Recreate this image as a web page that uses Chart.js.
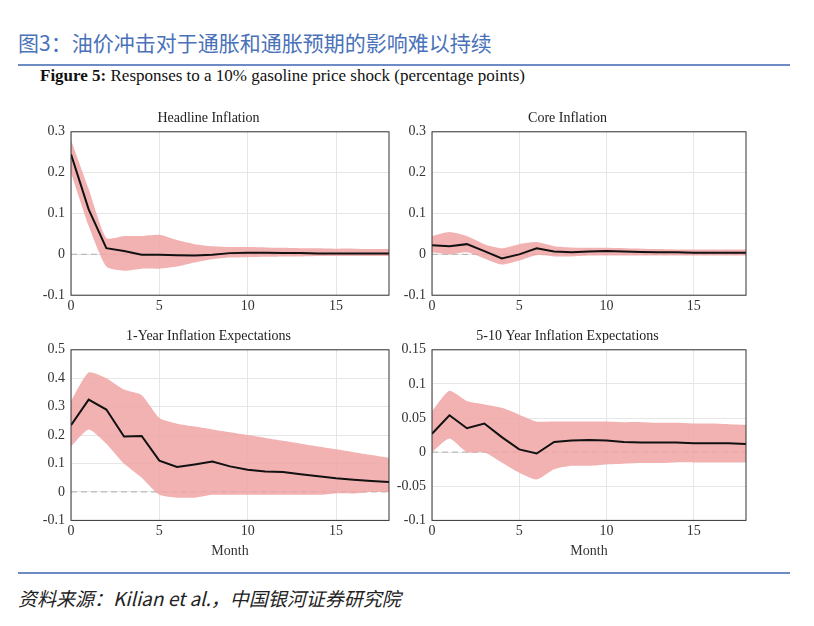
<!DOCTYPE html>
<html><head><meta charset="utf-8">
<script src="https://cdn.jsdelivr.net/npm/chart.js@4"></script>
<style>
body{margin:0;background:#fff;width:814px;height:626px;position:relative;overflow:hidden}
.h{position:absolute;left:18px;top:27px;font:21px "Noto Sans CJK SC";color:#4a72b8}
.rule{position:absolute;left:18px;width:772px;height:2px;background:#6d8cc6}
.cap{position:absolute;left:40px;top:66px;font:17px "Liberation Serif";color:#111}
.src{position:absolute;left:18px;top:584px;font:italic 19px "Noto Sans CJK SC";color:#222}
.p{position:absolute}
</style></head><body>
<div class="h">图3：油价冲击对于通胀和通胀预期的影响难以持续</div>
<div class="rule" style="top:64px"></div>
<div class="cap"><b>Figure 5:</b> Responses to a 10% gasoline price shock (percentage points)</div>
<div class="p" style="left:28px;top:110px;width:365px;height:208px"><canvas id="c1"></canvas></div>
<div class="p" style="left:389px;top:110px;width:361px;height:208px"><canvas id="c2"></canvas></div>
<div class="p" style="left:28px;top:328px;width:365px;height:232px"><canvas id="c3"></canvas></div>
<div class="p" style="left:389px;top:328px;width:361px;height:232px"><canvas id="c4"></canvas></div>
<div class="rule" style="top:572px"></div>
<div class="src">资料来源：Kilian et al.，中国银河证券研究院</div>
<script>
const months = [...Array(19).keys()];

const headMean = [0.245,0.11,0.015,0.008,-0.001,-0.001,-0.002,-0.003,-0.001,0.003,0.004,0.004,0.003,0.003,0.002,0.002,0.002,0.002,0.002];
const headHi = [0.28,0.16,0.04,0.045,0.045,0.048,0.035,0.025,0.02,0.018,0.018,0.017,0.016,0.015,0.015,0.014,0.014,0.013,0.013];
const headLo = [0.2,0.07,-0.03,-0.04,-0.035,-0.035,-0.03,-0.02,-0.012,-0.008,-0.007,-0.006,-0.005,-0.005,-0.004,-0.004,-0.004,-0.004,-0.004];

const coreMean = [0.022,0.02,0.025,0.008,-0.01,0.0,0.015,0.007,0.005,0.007,0.008,0.007,0.006,0.005,0.005,0.004,0.004,0.004,0.004];
const coreHi = [0.045,0.055,0.045,0.025,0.015,0.025,0.03,0.02,0.017,0.016,0.016,0.015,0.014,0.013,0.012,0.012,0.012,0.012,0.012];
const coreLo = [0.005,0.0,0.005,-0.01,-0.025,-0.015,-0.002,-0.005,-0.005,-0.003,-0.003,-0.003,-0.003,-0.003,-0.003,-0.003,-0.003,-0.003,-0.003];

const y1Mean = [0.235,0.325,0.29,0.195,0.197,0.11,0.088,0.097,0.107,0.09,0.078,0.072,0.07,0.062,0.055,0.048,0.043,0.039,0.035];
const y1Hi = [0.32,0.42,0.4,0.36,0.34,0.26,0.24,0.23,0.22,0.21,0.2,0.19,0.18,0.17,0.16,0.15,0.14,0.13,0.12];
const y1Lo = [0.16,0.22,0.17,0.1,0.05,-0.01,-0.02,-0.02,-0.01,-0.01,-0.01,-0.01,-0.01,-0.01,-0.01,-0.005,-0.005,0,0];

const y5Mean = [0.027,0.054,0.035,0.042,0.022,0.004,-0.002,0.015,0.017,0.018,0.017,0.015,0.014,0.014,0.014,0.013,0.013,0.013,0.012];
const y5Hi = [0.06,0.09,0.075,0.07,0.065,0.055,0.045,0.045,0.045,0.045,0.045,0.044,0.044,0.043,0.043,0.042,0.042,0.041,0.04];
const y5Lo = [0.0,0.02,0.0,0.0,-0.015,-0.03,-0.04,-0.025,-0.02,-0.02,-0.018,-0.017,-0.016,-0.016,-0.015,-0.015,-0.015,-0.015,-0.015];

// 0 기준 점선 + 테두리 상자
const framePlugin = {
  id: 'frame',
  beforeDatasetsDraw(chart) {
    const { ctx, chartArea: a, scales } = chart;
    const y0 = scales.y.getPixelForValue(0);
    ctx.save();
    ctx.strokeStyle = '#bbb';
    ctx.lineWidth = 1.2;
    ctx.setLineDash([6, 4]);
    ctx.beginPath(); ctx.moveTo(a.left, y0); ctx.lineTo(a.right, y0); ctx.stroke();
    ctx.restore();
  },
  afterDraw(chart) {
    const { ctx, chartArea: a } = chart;
    ctx.save();
    ctx.strokeStyle = '#333';
    ctx.lineWidth = 1;
    ctx.strokeRect(a.left, a.top, a.right - a.left, a.bottom - a.top);
    ctx.restore();
  }
};

const serif = { family: 'Liberation Serif', size: 14, weight: 'normal' };

function makeChart(id, title, mean, hi, lo, ymin, ymax, step, showMonth) {
  const pts = arr => arr.map((v, i) => ({ x: months[i], y: v }));
  new Chart(document.getElementById(id), {
    type: 'line',
    data: {
      datasets: [
        { data: pts(mean), borderColor: '#111', borderWidth: 2, pointRadius: 0, fill: false, order: 0 },
        { data: pts(hi), borderWidth: 0, pointRadius: 0, fill: '+1', backgroundColor: 'rgba(240,165,165,0.85)', tension: 0.2, order: 2 },
        { data: pts(lo), borderWidth: 0, pointRadius: 0, fill: false, tension: 0.2, order: 3 }
      ]
    },
    options: {
      responsive: true, maintainAspectRatio: false, animation: false,
      layout: { padding: { right: 4 } },
      plugins: {
        legend: { display: false }, tooltip: { enabled: false },
        title: { display: true, text: title, color: '#222', font: serif, padding: { top: 0, bottom: 5 } }
      },
      scales: {
        x: {
          type: 'linear', min: 0, max: 18,
          afterBuildTicks(s) { s.ticks = s.ticks.filter(t => t.value % 5 === 0); },
          ticks: { stepSize: 5, color: '#333', font: serif, maxRotation: 0 },
          grid: { color: '#e6e6e6', drawTicks: false },
          border: { display: false },
          title: { display: showMonth, text: 'Month', color: '#333', font: serif, padding: 0 }
        },
        y: {
          min: ymin, max: ymax,
          afterFit(s) { s.width = 43; },
          ticks: { stepSize: step, color: '#333', font: serif, padding: 6,
            callback: v => +v.toFixed(2) },
          grid: { color: '#e6e6e6', drawTicks: false },
          border: { display: false }
        }
      }
    },
    plugins: [framePlugin]
  });
}

makeChart('c1', 'Headline Inflation', headMean, headHi, headLo, -0.1, 0.3, 0.1, false);
makeChart('c2', 'Core Inflation', coreMean, coreHi, coreLo, -0.1, 0.3, 0.1, false);
makeChart('c3', '1-Year Inflation Expectations', y1Mean, y1Hi, y1Lo, -0.1, 0.5, 0.1, true);
makeChart('c4', '5-10 Year Inflation Expectations', y5Mean, y5Hi, y5Lo, -0.1, 0.15, 0.05, true);
</script>
</body></html>
